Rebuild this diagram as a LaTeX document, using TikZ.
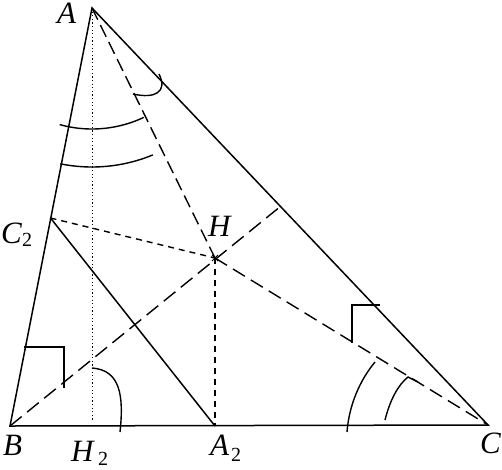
\documentclass[tikz,border=0pt]{standalone}
\usepackage{fontspec}
\setmainfont{Liberation Serif}
\begin{document}
\begin{tikzpicture}[x=1pt,y=-1pt,
  side/.style={line width=1.5pt},
  longdash/.style={line width=1.4pt,dash pattern=on 13pt off 6pt},
  shortdash/.style={line width=1.4pt,dash pattern=on 6pt off 5pt},
  dotline/.style={line width=1pt,dash pattern=on 1.2pt off 2.4pt},
  anglemark/.style={line width=1.4pt},
  lab/.style={font=\fontsize{31}{31}\selectfont\itshape,inner sep=0pt,anchor=base west},
  sub/.style={font=\fontsize{20}{20}\selectfont,inner sep=0pt,anchor=base west}]
\useasboundingbox (0,0) rectangle (502,469);
% points
\coordinate (A) at (92,8);
\coordinate (B) at (10,426);
\coordinate (C) at (488,425);
\coordinate (H) at (215,258);
\coordinate (A2) at (215,426);
\coordinate (H2) at (92,420);
\coordinate (C2) at (50.5,218);
\coordinate (P) at (281,206);
% triangle
\draw[side] (A) -- (B) -- (C) -- cycle;
\draw[side] (C2) -- (A2);
% cevians
\draw[dotline] (A) -- (H2);
\draw[longdash] (A) -- (H);
\draw[shortdash] (C2) -- (H);
\draw[longdash,dash pattern=on 15pt off 7pt] (B) -- (P);
\draw[longdash,dash pattern=on 14pt off 7pt] (H) -- (C);
\draw[shortdash] (H) -- (A2);
\draw[line width=1pt] (H) ++(-3,-3) -- ++(6,6) (H) ++(-3,3) -- ++(6,-6);
% angle marks
\draw[anglemark] plot[domain=64.7:105.5,samples=40] ({92+121*cos(\x)},{8+121*sin(\x)});
\draw[anglemark] plot[domain=67.5:101.5,samples=40] ({92+159*cos(\x)},{8+159*sin(\x)});
\draw[anglemark] (133,94) .. controls (155,99) and (168,92) .. (159,74);
\draw[anglemark] (92,368) .. controls (120,370) and (124,395) .. (120,432);
\draw[anglemark] (347,432) .. controls (349,405) and (360,380) .. (375,362);
\draw[anglemark] (385,420) .. controls (390,400) and (398,385) .. (408,377) -- (418,382);
% right-angle style marks
\draw[anglemark] (24,347) -- (64,347) -- (64,388);
\draw[anglemark] (380,305) -- (352,305) -- (352,343);
% labels
\node[lab] (lA) at (57,23) {A};
\node[lab] (lB) at (3,455) {B};
\node[lab] (lC) at (480,453) {C};
\node[lab] (lH) at (208,236) {H};
\node[lab] (lH2) at (71,461) {H};
\node[sub] (sH2) at (98,465) {2};
\node[lab] (lA2) at (210,455) {A};
\node[sub] (sA2) at (231,461) {2};
\node[lab] (lC2) at (1,243) {C};
\node[sub] (sC2) at (22,246) {2};
\end{tikzpicture}
\end{document}
